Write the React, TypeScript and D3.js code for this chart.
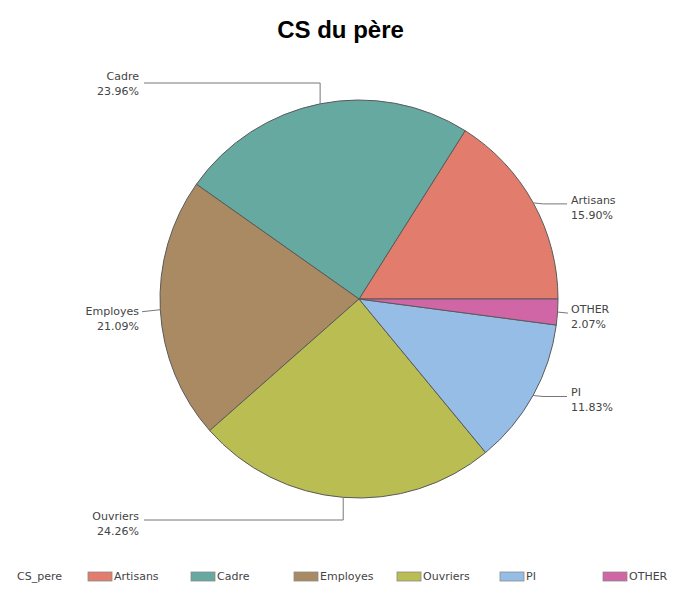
import React from "react";
import * as d3 from "d3";

const categories = ["Artisans", "Cadre", "Employes", "Ouvriers", "PI", "OTHER"];
const percents = [15.9, 23.96, 21.09, 24.26, 11.83, 2.07];
const percentLabels = ["15.90%", "23.96%", "21.09%", "24.26%", "11.83%", "2.07%"];
const colors = ["#E27C6C", "#66A9A1", "#A98A63", "#B9BD52", "#95BDE6", "#D166A6"];
const legendTitle = "CS_pere";
const title = "CS du père";

const W = 675;
const H = 593;
const cx = 359;
const cy = 299;
const R = 199;
const FONT = "DejaVu Sans, Verdana, sans-serif";

export default function App() {
  const pie = d3
    .pie<number>()
    .sort(null)
    .startAngle(Math.PI / 2)
    .endAngle(Math.PI / 2 - 2 * Math.PI);
  const arcs = pie(percents);
  const arcGen = d3.arc<d3.PieArcDatum<number>>().innerRadius(0).outerRadius(R);

  const labels = arcs.map((a, i) => {
    const mid = (a.startAngle + a.endAngle) / 2;
    const ax = cx + R * Math.sin(mid);
    const ay = cy - R * Math.cos(mid);
    const s = Math.sin(mid);
    const c = Math.cos(mid);
    let pts: [number, number][];
    let tx: number;
    let ty: number;
    let anchor: "start" | "end";
    if (Math.abs(c) > 0.9) {
      const ly = c > 0 ? cy - R - 17 : cy + R + 22;
      tx = cx - R - 21;
      pts = [
        [ax, ay],
        [ax, ly],
        [tx + 5, ly],
      ];
      ty = c > 0 ? ly - 6 : ly - 3;
      anchor = "end";
    } else if (s > 0) {
      tx = cx + R + 13;
      const ly = ay + (c < -0.5 ? 10 : c > 0.5 ? -3 : 1);
      pts = [
        [ax, ay],
        [ax + 10, ly],
        [tx - 4, ly],
      ];
      ty = ly - 3;
      anchor = "start";
    } else {
      tx = cx - R - 21;
      const ly = ay + 2;
      pts = [
        [ax, ay],
        [tx + 3, ly],
      ];
      ty = ly;
      anchor = "end";
    }
    return { i, pts, tx, ty, anchor };
  });

  const legendX = d3.scaleLinear().domain([0, categories.length - 1]).range([88, 603]);

  return (
    <svg
      width={W}
      height={H}
      style={{ position: "absolute", left: 0, top: 0, background: "#fff" }}
      fontFamily={FONT}
    >
      <text
        x={W / 2 + 3}
        y={38}
        textAnchor="middle"
        fontFamily="Liberation Sans, Arial, sans-serif"
        fontWeight="bold"
        fontSize={24}
        fill="#000"
      >
        {title}
      </text>
      <g transform={`translate(${cx},${cy})`}>
        {arcs.map((a, i) => (
          <path key={i} d={arcGen(a) || ""} fill={colors[i]} stroke="#5a5a5a" strokeWidth={1} />
        ))}
      </g>
      {labels.map((l) => (
        <g key={l.i}>
          <polyline
            points={l.pts.map((p) => p.join(",")).join(" ")}
            fill="none"
            stroke="#777"
            strokeWidth={1}
          />
          <text x={l.tx} y={l.ty} textAnchor={l.anchor} fontSize={11} fill="#444" dominantBaseline="middle">
            {categories[l.i]}
          </text>
          <text x={l.tx} y={l.ty + 15} textAnchor={l.anchor} fontSize={11} fill="#444" dominantBaseline="middle">
            {percentLabels[l.i]}
          </text>
        </g>
      ))}
      <text x={17} y={577} fontSize={11} fill="#444" dominantBaseline="middle">
        {legendTitle}
      </text>
      {categories.map((cat, i) => (
        <g key={cat} transform={`translate(${legendX(i)},572)`}>
          <rect x={0} y={0} width={24} height={9} fill={colors[i]} stroke="#8a8a8a" strokeWidth={0.8} />
          <text x={26} y={5} fontSize={11} fill="#444" dominantBaseline="middle">
            {cat}
          </text>
        </g>
      ))}
    </svg>
  );
}
